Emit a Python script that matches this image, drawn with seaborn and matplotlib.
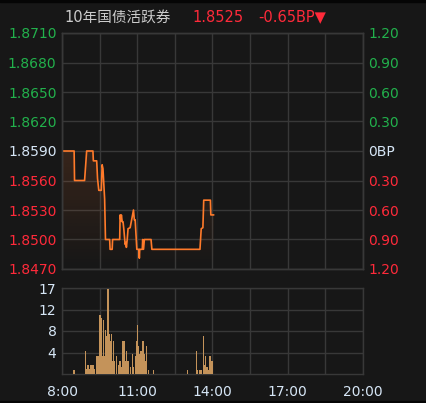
import numpy as np
import pandas as pd
import seaborn as sns
import matplotlib.pyplot as plt
from matplotlib.patches import Polygon, Rectangle
from matplotlib.colors import to_rgb

# price line (time, yield)
price_time = ["8:00", "8:29", "8:30", "8:54", "8:59", "9:14", "9:15", "9:23", "9:25", "9:28",
              "9:34", "9:36", "9:38", "9:42", "9:44", "9:54", "9:55", "10:00", "10:01", "10:18",
              "10:19", "10:21", "10:22", "10:24", "10:26", "10:28", "10:31", "10:33", "10:34", "10:36",
              "10:38", "10:43", "10:51", "10:53", "10:55", "10:59", "11:04", "11:05", "11:06", "11:12",
              "11:13", "11:15", "11:17", "11:33", "11:35", "13:30", "13:33", "13:37", "13:39", "13:55",
              "13:56", "14:03"]
price_value = [1.8590, 1.8590, 1.8560, 1.8560, 1.8590, 1.8590, 1.8580, 1.8580, 1.8562, 1.8550,
               1.8550, 1.8576, 1.8572, 1.8541, 1.8500, 1.8500, 1.8490, 1.8490, 1.8500, 1.8500,
               1.8525, 1.8519, 1.8525, 1.8518, 1.8518, 1.8510, 1.8495, 1.8497, 1.8492, 1.8500,
               1.8511, 1.8512, 1.8530, 1.8520, 1.8520, 1.8490, 1.8490, 1.8481, 1.8490, 1.8490,
               1.8500, 1.8490, 1.8500, 1.8500, 1.8490, 1.8490, 1.8511, 1.8512, 1.8540, 1.8540,
               1.8525, 1.8525]

# volume bars
vol_time = ["8:29", "8:56", "8:59", "9:02", "9:06", "9:09", "9:12", "9:15", "9:18", "9:22",
            "9:25", "9:28", "9:31", "9:34", "9:36", "9:39", "9:42", "9:44", "9:47", "9:50",
            "9:53", "9:55", "9:58", "10:00", "10:03", "10:06", "10:11", "10:15", "10:19", "10:22",
            "10:26", "10:29", "10:32", "10:35", "10:38", "10:43", "10:48", "10:51", "10:55", "10:58",
            "11:01", "11:03", "11:06", "11:09", "11:11", "11:14", "11:17", "11:21", "11:23", "11:27",
            "11:38", "13:01", "13:22", "13:25", "13:30", "13:33", "13:38", "13:40", "13:43", "13:47",
            "13:50", "13:54", "13:56", "13:59"]
vol_value = [0.8, 4.6, 1.0, 1.8, 1.0, 1.8, 1.8, 1.8, 1.0, 3.6,
             3.6, 3.6, 11.6, 11.0, 3.6, 10.6, 3.6, 8.6, 7.6, 16.8,
             8.0, 6.6, 8.0, 2.6, 6.6, 2.6, 3.6, 1.8, 2.6, 1.4,
             6.6, 6.6, 2.6, 4.6, 2.6, 1.4, 4.0, 1.4, 3.6, 6.6,
             9.6, 5.6, 4.0, 4.6, 1.8, 6.6, 4.0, 2.6, 5.6, 0.8,
             0.8, 0.8, 4.6, 0.8, 0.8, 0.8, 7.6, 1.8, 3.6, 1.4,
             0.8, 3.6, 2.6, 2.6]

left_labels = ["1.8710", "1.8680", "1.8650", "1.8620", "1.8590", "1.8560", "1.8530", "1.8500", "1.8470"]
right_labels = ["1.20", "0.90", "0.60", "0.30", "0BP", "0.30", "0.60", "0.90", "1.20"]
vol_labels = ["4", "8", "12", "17"]
x_labels = ["8:00", "11:00", "14:00", "17:00", "20:00"]

BG = '#171717'
GRID = '#383838'
GREEN = '#22b14c'
RED = '#ff2a3a'
WHITE = '#d6e6f6'


def to_hour(s):
    h, m = s.split(':')
    return int(h) + int(m) / 60


sns.set_style('dark', {'axes.facecolor': BG, 'figure.facecolor': BG})
plt.rcParams['font.family'] = ['DejaVu Sans', 'Noto Sans CJK SC']

df = pd.DataFrame({'t': [to_hour(s) for s in price_time], 'p': price_value})
dv = pd.DataFrame({'t': [to_hour(s) for s in vol_time], 'v': vol_value})

fig = plt.figure(figsize=(4.27, 4.03), dpi=100)
fig.patch.set_facecolor(BG)
ax = fig.add_axes([62 / 427, 1 - 269 / 403, 301 / 427, 236 / 403])
axv = fig.add_axes([62 / 427, 1 - 374 / 403, 301 / 427, 86 / 403])

ymin, ymax = 1.8470, 1.8710

# gradient under the line
verts = [(df.t.iloc[0], ymin)] + list(zip(df.t, df.p)) + [(df.t.iloc[-1], ymin)]
poly = Polygon(verts, closed=True, facecolor='none', edgecolor='none')
ax.add_patch(poly)
rgba = np.zeros((256, 1, 4))
rgba[..., :3] = to_rgb('#ff7a30')
rgba[..., 3] = np.linspace(0.0, 0.14, 256).reshape(-1, 1)
im = ax.imshow(rgba, extent=[df.t.min(), df.t.max(), ymin, df.p.max()],
               origin='lower', aspect='auto', zorder=1)
im.set_clip_path(poly)

sns.lineplot(data=df, x='t', y='p', ax=ax, color='#ff7a2a', lw=1.2, sort=False, zorder=3)

ax.set_xlim(8, 20)
ax.set_ylim(ymin, ymax)
ticks = np.linspace(ymax, ymin, 9)
ax.set_yticks(ticks)
ax.set_yticklabels(left_labels)
ax.set_xticks(np.arange(8, 20.01, 1.5))
ax.set_xticklabels([])
ax.set_xlabel('')
ax.set_ylabel('')
ax.grid(True, color=GRID, lw=1)
ax.tick_params(length=0, labelsize=10, pad=4)
for i, lab in enumerate(ax.get_yticklabels()):
    lab.set_color(GREEN if i < 4 else (WHITE if i == 4 else RED))

axr = ax.twinx()
axr.set_ylim(ymin, ymax)
axr.set_yticks(ticks)
axr.set_yticklabels(right_labels)
axr.tick_params(length=0, labelsize=10, pad=4)
axr.grid(False)
for i, lab in enumerate(axr.get_yticklabels()):
    lab.set_color(GREEN if i < 4 else (WHITE if i == 4 else RED))

# volume panel
axv.bar(dv.t, dv.v, width=3 / 60, color='#c4935a', linewidth=0, zorder=3)
axv.set_xlim(8, 20)
axv.set_ylim(0, 17)
axv.set_yticks([4.25, 8.5, 12.75, 17])
axv.set_yticklabels(vol_labels, color=WHITE)
axv.set_xticks(np.arange(8, 20.01, 1.5))
axv.set_xticklabels([x_labels[i // 2] if i % 2 == 0 else '' for i in range(9)], color=WHITE)
axv.grid(True, color=GRID, lw=1)
axv.tick_params(length=0, labelsize=10, pad=4)
axv.tick_params(axis='x', pad=8)

for a in (ax, axr, axv):
    for sp in a.spines.values():
        sp.set_color(GRID)
        sp.set_linewidth(1)

fig.text(64 / 427, 1 - 17 / 403, '10年国债活跃券', color='#cccccc', fontsize=10.5, va='center',
         family=['DejaVu Sans', 'Noto Sans CJK SC'])
fig.text(192 / 427, 1 - 17 / 403, '1.8525', color=RED, fontsize=10.5, va='center')
fig.text(258 / 427, 1 - 17 / 403, '-0.65BP▼', color=RED, fontsize=10.5, va='center')

fig.patches.append(Rectangle((0, 0), 1, 2 / 403, transform=fig.transFigure, color='#050505', zorder=0))
fig.patches.append(Rectangle((0, 1 - 2 / 403), 1, 2 / 403, transform=fig.transFigure, color='#050505', zorder=0))

fig.savefig('out.png', dpi=100, facecolor=BG)
